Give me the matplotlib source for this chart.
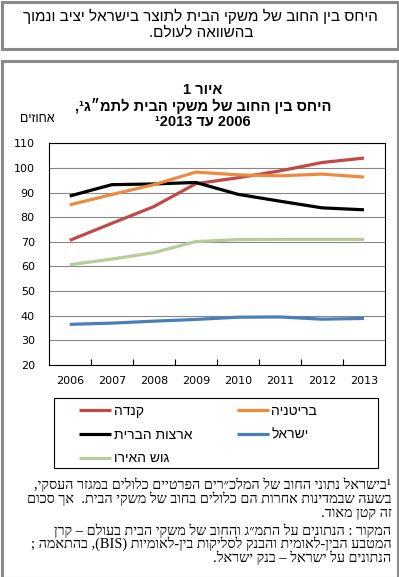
import re
import matplotlib
matplotlib.use("Agg")
import matplotlib.pyplot as plt
from matplotlib.patches import Rectangle

# ---------------- data ----------------
years = ["2006", "2007", "2008", "2009", "2010", "2011", "2012", "2013"]
canada = [70.6, 77.5, 84.3, 93.6, 96.0, 98.8, 102.2, 104.0]
uk = [85.0, 89.2, 93.2, 98.3, 97.2, 96.8, 97.5, 96.3]
usa = [88.6, 93.2, 93.5, 94.1, 89.3, 86.5, 83.8, 83.0]
israel = [36.5, 37.0, 37.8, 38.5, 39.4, 39.5, 38.6, 38.9]
euro = [60.7, 63.0, 65.6, 70.1, 70.9, 71.0, 71.0, 71.0]

series_names = ["קנדה", "ארצות הברית", "גוש האירו", "בריטניה", "ישראל"]
series_values = [canada, usa, euro, uk, israel]
series_colors = ["#BE4B48", "#000000", "#B7CC99", "#EE8A3E", "#4A7EBB"]

yticks = [20, 30, 40, 50, 60, 70, 80, 90, 100, 110]

title_lines = ["איור 1", "היחס בין החוב של משקי הבית לתמ״ג¹,", "2006 עד 2013"]
box_lines = ["היחס בין החוב של משקי הבית לתוצר בישראל יציב ונמוך", "בהשוואה לעולם."]
unit_label = "אחוזים"
note_lines = [
    "¹בישראל נתוני החוב של המלכ״רים הפרטיים כלולים במגזר העסקי,",
    "בשעה שבמדינות אחרות הם כלולים בחוב של משקי הבית.  אך סכום",
    "זה קטן מאוד.",
]
source_lines = [
    "המקור : הנתונים על התמ״ג והחוב של משקי הבית בעולם – קרן",
    "המטבע הבין-לאומית והבנק לסליקות בין-לאומיות (BIS), בהתאמה ;",
    "הנתונים על ישראל – בנק ישראל.",
]

# ---------------- simple RTL visual ordering ----------------
MIRROR = {"(": ")", ")": "(", "[": "]", "]": "["}
LTR_RE = re.compile(r"[A-Za-z0-9¹]+(?:[.\-][A-Za-z0-9¹]+)*")


def vis(s):
    segs = []
    pos = 0
    for m in LTR_RE.finditer(s):
        if m.start() > pos:
            segs.append(("r", s[pos:m.start()]))
        segs.append(("l", m.group()))
        pos = m.end()
    if pos < len(s):
        segs.append(("r", s[pos:]))
    out = []
    for kind, t in reversed(segs):
        if kind == "l":
            out.append(t)
        else:
            out.append("".join(MIRROR.get(c, c) for c in reversed(t)))
    return "".join(out)


W, H = 399, 577
fig = plt.figure(figsize=(W / 100, H / 100), dpi=100)


def fx(x):
    return x / W


def fy(y):
    return 1 - y / H


SANS = ["Liberation Sans", "DejaVu Sans"]
SERIF = ["Liberation Serif", "DejaVu Serif", "DejaVu Sans"]

# outer boxes
fig.add_artist(Rectangle((fx(1.5), fy(49)), fx(396), 47.5 / H, transform=fig.transFigure,
                         fill=False, edgecolor="#8A8A8A", linewidth=2.2))
fig.add_artist(Rectangle((fx(1.5), fy(578)), fx(396), (578 - 61) / H, transform=fig.transFigure,
                         fill=False, edgecolor="#8A8A8A", linewidth=2.2))

# top box text
fig.text(fx(200), fy(16), vis(box_lines[0]), ha="center", va="center", fontsize=11, family=SANS)
fig.text(fx(201), fy(33), vis(box_lines[1]), ha="center", va="center", fontsize=11, family=SANS)

# title
ty = [90, 106, 122]
title_vis = [vis(title_lines[0]), vis(title_lines[1]), "¹" + vis(title_lines[2])]
for t, y in zip(title_vis, ty):
    fig.text(fx(203), fy(y), t, ha="center", va="center", fontsize=10.5,
             fontweight="bold", family=SANS)

fig.text(fx(55), fy(119), vis(unit_label), ha="right", va="center", fontsize=9, family=SANS)

# ---------------- axes ----------------
L, R, T, B = 48.7, 385, 143.3, 365
ax = fig.add_axes([fx(L), fy(B), (R - L) / W, (B - T) / H])
x = list(range(len(years)))
for name, vals, col in zip(series_names, series_values, series_colors):
    ax.plot(x, vals, color=col, lw=2.3, solid_capstyle="butt", label=vis(name), zorder=3)

ax.set_xlim(-0.5, len(years) - 0.5)
ax.set_ylim(20, 110)
ax.set_yticks(yticks)
ax.set_yticklabels([str(v) for v in yticks], fontsize=8, family="DejaVu Sans")
ax.set_xticks(x)
ax.set_xticklabels(years, fontsize=8, family="DejaVu Sans")
ax.set_xticks([i + 0.5 for i in range(len(years) - 1)], minor=True)
ax.tick_params(axis="x", which="major", length=0, pad=8)
ax.tick_params(axis="x", which="minor", length=4, direction="in", width=0.8)
ax.tick_params(axis="y", length=0, pad=10)
ax.grid(axis="y", color="#878787", lw=0.8, zorder=1)
for s in ax.spines.values():
    s.set_color("black")
    s.set_linewidth(0.8)

# legend
fig.add_artist(Rectangle((fx(54.3), fy(468.3)), (378 - 54.3) / W, (468.3 - 398.3) / H,
                         transform=fig.transFigure, fill=False, edgecolor="black", linewidth=0.8))
handles, labels = ax.get_legend_handles_labels()
fig.legend(handles, labels, loc="upper left", bbox_to_anchor=(fx(79), fy(404)), ncol=2,
           frameon=False, borderpad=0, borderaxespad=0,
           prop={"family": SANS, "size": 10},
           handlelength=2.3, handletextpad=0.2, columnspacing=3.2, labelspacing=0.7)

# notes
ny = [485, 499, 513, 530.5, 544, 557.5]
for t, y in zip(note_lines + source_lines, ny):
    fig.text(fx(391.5), fy(y), vis(t), ha="right", va="center", fontsize=10.4, family=SERIF)

fig.savefig("out.png", dpi=100)
